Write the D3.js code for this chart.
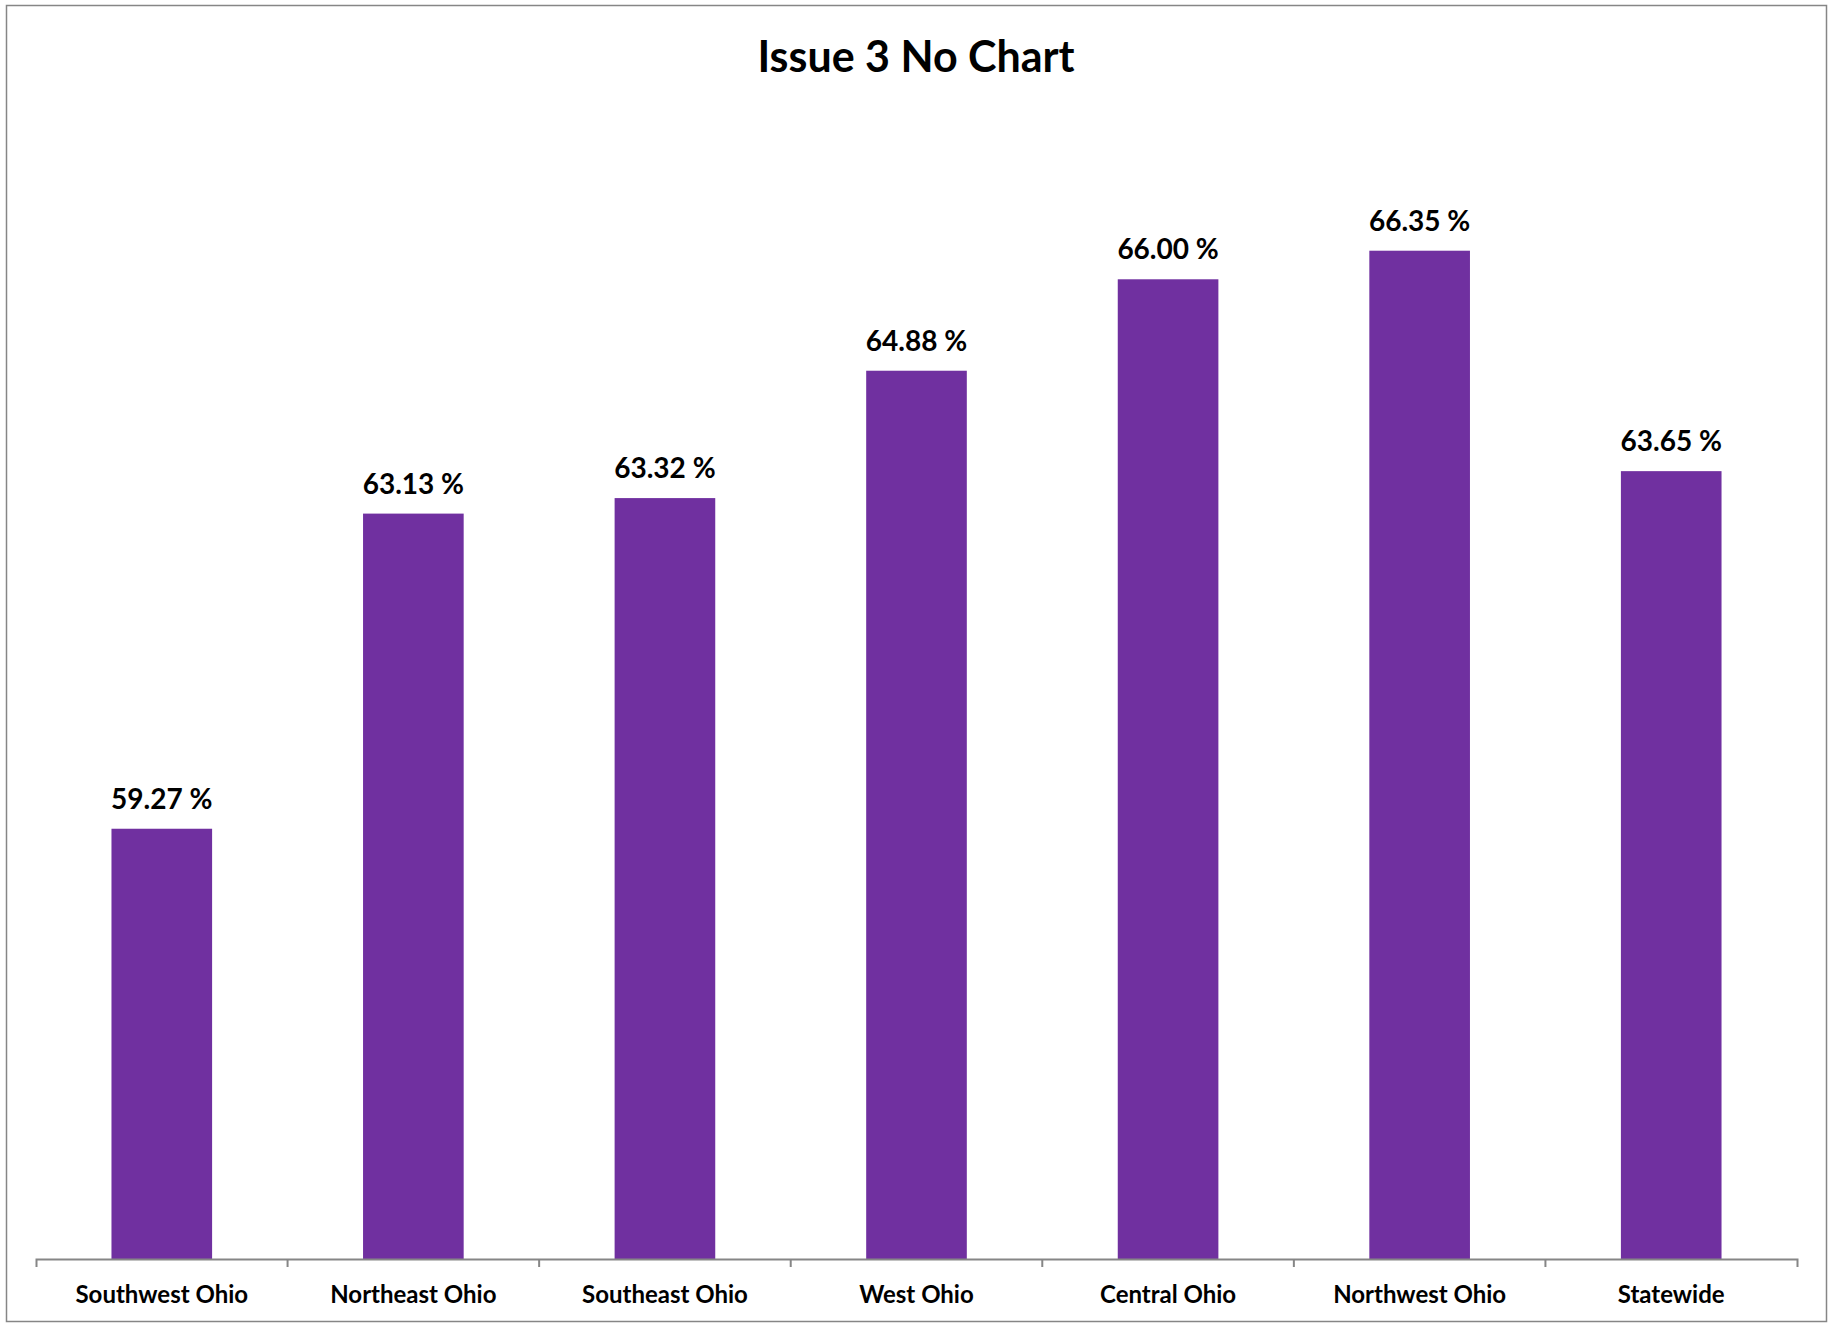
<!DOCTYPE html>
<html>
<head>
<meta charset="utf-8">
<script src="https://cdn.jsdelivr.net/npm/d3@7"></script>
<style>
  html, body { margin: 0; padding: 0; background: #fff; }
  text { font-family: Lato, "Open Sans", sans-serif; font-weight: bold; fill: #000; }
</style>
</head>
<body>
<div id="chart"></div>
<script>
// Chart data
const title = 'Issue 3 No Chart';
const regions = ['Southwest Ohio', 'Northeast Ohio', 'Southeast Ohio', 'West Ohio',
                 'Central Ohio', 'Northwest Ohio', 'Statewide'];
const noPercent = [59.27, 63.13, 63.32, 64.88, 66.00, 66.35, 63.65];
const yDomain = [54, 68];

const WIDTH = 1834;
const HEIGHT = 1324;
const BAR_COLOR = '#7030a0';
const AXIS_COLOR = '#868686';

const svg = d3.select('#chart')
    .append('svg')
    .attr('width', WIDTH)
    .attr('height', HEIGHT);

// Outer chart frame
svg.append('rect')
    .attr('x', 6.5)
    .attr('y', 5.5)
    .attr('width', 1820)
    .attr('height', 1316)
    .attr('fill', 'none')
    .attr('stroke', AXIS_COLOR)
    .attr('stroke-width', 1.5);

// Title
svg.append('text')
    .attr('x', 916)
    .attr('y', 72)
    .attr('text-anchor', 'middle')
    .style('font-size', '43px')
    .text(title);

// Scales
const x = d3.scaleBand()
    .domain(regions)
    .range([36, 1797])
    .paddingInner(0.6)
    .paddingOuter(0.3);

const y = d3.scaleLinear()
    .domain(yDomain)
    .range([1259, 116]);

// Bars
svg.append('g')
    .selectAll('rect')
    .data(regions)
    .join('rect')
    .attr('x', d => x(d))
    .attr('y', (d, i) => y(noPercent[i]))
    .attr('width', x.bandwidth())
    .attr('height', (d, i) => y(yDomain[0]) - y(noPercent[i]))
    .attr('fill', BAR_COLOR);

// Value labels
svg.append('g')
    .selectAll('text')
    .data(regions)
    .join('text')
    .attr('x', d => x(d) + x.bandwidth() / 2)
    .attr('y', (d, i) => y(noPercent[i]) - 20)
    .attr('text-anchor', 'middle')
    .style('font-size', '28px')
    .text((d, i) => noPercent[i].toFixed(2) + ' %');

// Category axis
const axis = svg.append('g')
    .attr('transform', `translate(0, ${y(yDomain[0])})`)
    .call(d3.axisBottom(x).tickSize(0).tickSizeOuter(8).tickPadding(27));

axis.select('.domain')
    .attr('stroke', AXIS_COLOR)
    .attr('stroke-width', 2);

axis.selectAll('.tick text')
    .style('font-family', 'Lato, "Open Sans", sans-serif')
    .style('font-size', '24px')
    .style('font-weight', 'bold')
    .attr('fill', '#000');

// Tick marks between categories (Excel style)
const step = x.step();
const boundaries = regions.slice(1).map(d => x(d) - x.paddingInner() * step / 2);
axis.selectAll('.between')
    .data(boundaries)
    .join('line')
    .attr('class', 'between')
    .attr('x1', d => d)
    .attr('x2', d => d)
    .attr('y1', 0)
    .attr('y2', 8)
    .attr('stroke', AXIS_COLOR)
    .attr('stroke-width', 2);
</script>
</body>
</html>
